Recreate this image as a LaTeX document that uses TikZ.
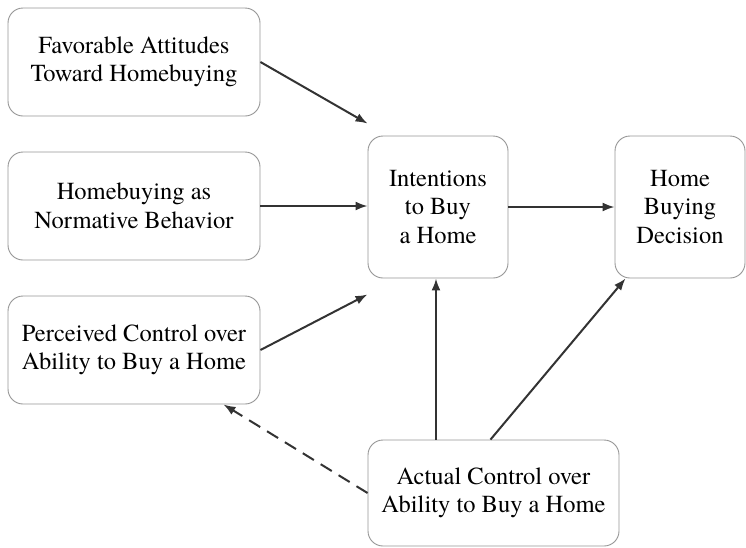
\documentclass[tikz,border=0pt]{standalone}
\usepackage{fontspec}
\setmainfont{texgyretermes}[Extension=.otf,UprightFont=*-regular,BoldFont=*-bold]
\usetikzlibrary{arrows.meta}
\definecolor{boxline}{RGB}{150,150,150}
\definecolor{arrline}{RGB}{51,51,51}

\begin{document}
\begin{tikzpicture}[x=1pt,y=1pt,yscale=-1,xscale=1,
  box/.style={draw=boxline,line width=0.9pt,fill=white,rounded corners=15pt,
    align=center,inner sep=0pt,font=\rmfamily\fontsize{24.5}{28.5}\selectfont},
  arr/.style={draw=arrline,line width=2pt,-{Latex[length=12pt,width=9pt]}}]
\useasboundingbox (0,0) rectangle (746,547);

% Text Node
\node [box,minimum width=252pt,minimum height=108pt] (fav) at (134,62) {Favorable Attitudes\\Toward Homebuying};
% Text Node
\node [box,minimum width=252pt,minimum height=108pt] (norm) at (134,206) {Homebuying as\\Normative Behavior};
% Text Node
\node [box,minimum width=252pt,minimum height=108pt] (perc) at (134,350) {Perceived Control over\\Ability to Buy a Home};
% Text Node
\node [box,minimum width=140pt,minimum height=142pt] (intent) at (438,207) {Intentions\\to Buy\\a Home};
% Text Node
\node [box,minimum width=130pt,minimum height=142pt] (dec) at (680,207) {Home\\Buying\\Decision};
% Text Node
\node [box,minimum width=251pt,minimum height=106pt] (actual) at (493.5,493) {Actual Control over\\Ability to Buy a Home};

%Straight Lines
\draw [arr] (fav.east) -- ([yshift=-12pt]intent.north west);
\draw [arr] (norm.east) -- (intent.west |- norm.east);
\draw [arr] (perc.east) -- ([yshift=16pt]intent.south west);
\draw [arr] (intent.east) -- (dec.west);
\draw [arr] ([xshift=-2pt]intent.south |- actual.north) -- ([xshift=-2pt]intent.south);
\draw [arr] ([xshift=-3pt]actual.north) -- ([xshift=11pt]dec.south west);
%Dashed Line
\draw [arr,dash pattern={on 13pt off 8pt}] (actual.west) -- ([xshift=-37pt]perc.south east);

\end{tikzpicture}
\end{document}
